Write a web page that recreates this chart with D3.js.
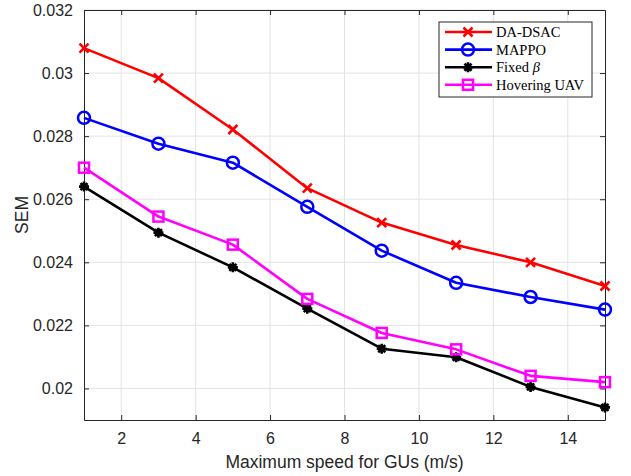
<!DOCTYPE html>
<html>
<head>
<meta charset="utf-8">
<script src="https://cdn.jsdelivr.net/npm/d3@7"></script>
<style>
  html, body { margin: 0; padding: 0; background: #fff; }
  svg { display: block; }
</style>
</head>
<body>
<svg id="chart" width="631" height="476"></svg>
<script>
const speeds = [1, 3, 5, 7, 9, 11, 13, 15];
const daDsac = [0.03079, 0.02984, 0.02821, 0.02635, 0.02526, 0.02455, 0.02400, 0.02325];
const mappo = [0.02858, 0.02776, 0.02716, 0.02576, 0.02437, 0.02335, 0.02290, 0.02250];
const fixedBeta = [0.02640, 0.02494, 0.02384, 0.02253, 0.02126, 0.02099, 0.02005, 0.01940];
const hovering = [0.02700, 0.02545, 0.02456, 0.02284, 0.02176, 0.02124, 0.02040, 0.02020];
const xTicks = [2, 4, 6, 8, 10, 12, 14];
const yTicks = [0.02, 0.022, 0.024, 0.026, 0.028, 0.03, 0.032];
const seriesNames = ["DA-DSAC", "MAPPO", "Fixed β", "Hovering UAV"];
const seriesColors = ["#ff0000", "#0000ff", "#000000", "#ff00ff"];
const seriesMarkers = ["x", "circle", "star", "square"];
const xLabel = "Maximum speed for GUs (m/s)";
const yLabel = "SEM";

const series = [daDsac, mappo, fixedBeta, hovering].map((vals, i) => ({
  name: seriesNames[i], color: seriesColors[i], marker: seriesMarkers[i],
  points: vals.map((v, j) => ({x: speeds[j], y: v}))
}));

const svg = d3.select("#chart");
const L = 84, R = 605, T = 10, B = 420;
const x = d3.scaleLinear().domain([1, 15]).range([L, R]);
const y = d3.scaleLinear().domain([0.019, 0.032]).range([B, T]);
const axisColor = "#262626";
const tickFont = "Liberation Sans, Arial, sans-serif";

// grid
const grid = svg.append("g");
grid.selectAll(".gx").data(xTicks).enter().append("line")
  .attr("x1", d => x(d)).attr("x2", d => x(d)).attr("y1", T).attr("y2", B)
  .attr("stroke", "#e3e3e3").attr("stroke-width", 1);
grid.selectAll(".gy").data(yTicks).enter().append("line")
  .attr("y1", d => y(d)).attr("y2", d => y(d)).attr("x1", L).attr("x2", R)
  .attr("stroke", "#e3e3e3").attr("stroke-width", 1);

// axes
function styleAxis(g) {
  g.select(".domain").attr("stroke", axisColor).attr("stroke-width", 1);
  g.selectAll(".tick line").attr("stroke", axisColor).attr("stroke-width", 1);
  g.selectAll(".tick text").attr("fill", axisColor).attr("font-family", tickFont).attr("font-size", "16px");
}
const fmtY = d => String(+d.toFixed(3));
svg.append("g").attr("transform", `translate(0,${B})`)
  .call(d3.axisBottom(x).tickValues(xTicks).tickSize(-5).tickPadding(13).tickSizeOuter(0))
  .call(styleAxis);
svg.append("g").attr("transform", `translate(0,${T})`)
  .call(d3.axisTop(x).tickValues(xTicks).tickSize(-5).tickFormat("").tickSizeOuter(0))
  .call(styleAxis);
svg.append("g").attr("transform", `translate(${L},0)`)
  .call(d3.axisLeft(y).tickValues(yTicks).tickSize(-5).tickPadding(11).tickFormat(fmtY).tickSizeOuter(0))
  .call(styleAxis);
svg.append("g").attr("transform", `translate(${R},0)`)
  .call(d3.axisRight(y).tickValues(yTicks).tickSize(-5).tickFormat("").tickSizeOuter(0))
  .call(styleAxis);

// axis labels
svg.append("text").attr("x", (L + R) / 2).attr("y", 468).attr("text-anchor", "middle")
  .attr("font-family", tickFont).attr("font-size", "17.5px").attr("fill", axisColor).text(xLabel);
svg.append("text").attr("transform", `translate(28,${(T + B) / 2}) rotate(-90)`).attr("text-anchor", "middle")
  .attr("font-family", tickFont).attr("font-size", "17.5px").attr("fill", axisColor).text(yLabel);

// markers
function drawMarker(g, type, color, cx, cy, s) {
  if (type === "x") {
    const r = 4.5;
    g.append("path").attr("d", `M${cx - r},${cy - r}L${cx + r},${cy + r}M${cx - r},${cy + r}L${cx + r},${cy - r}`)
      .attr("stroke", color).attr("stroke-width", 2.6).attr("fill", "none");
  } else if (type === "circle") {
    g.append("circle").attr("cx", cx).attr("cy", cy).attr("r", 6)
      .attr("stroke", color).attr("stroke-width", 2.5).attr("fill", "none");
  } else if (type === "star") {
    const r = 5;
    const d = [0, 45, 90, 135].map(a => {
      const rad = a * Math.PI / 180;
      const dx = r * Math.cos(rad), dy = r * Math.sin(rad);
      return `M${cx - dx},${cy - dy}L${cx + dx},${cy + dy}`;
    }).join("");
    g.append("path").attr("d", d).attr("stroke", color).attr("stroke-width", 2.6).attr("fill", "none");
    g.append("circle").attr("cx", cx).attr("cy", cy).attr("r", 3.5).attr("fill", color);
  } else if (type === "square") {
    const h = 5;
    g.append("rect").attr("x", cx - h).attr("y", cy - h).attr("width", 2 * h).attr("height", 2 * h)
      .attr("stroke", color).attr("stroke-width", 2.5).attr("fill", "none");
  }
}

const line = d3.line().x(d => x(d.x)).y(d => y(d.y));
const plot = svg.append("g");
series.forEach(s => {
  plot.append("path").datum(s.points).attr("d", line)
    .attr("fill", "none").attr("stroke", s.color).attr("stroke-width", 2.6).attr("stroke-linejoin", "round");
  s.points.forEach(p => drawMarker(plot, s.marker, s.color, x(p.x), y(p.y)));
});

// legend
const lg = svg.append("g");
const lx = 439, ly = 22, lw = 153, lh = 75;
lg.append("rect").attr("x", lx).attr("y", ly).attr("width", lw).attr("height", lh)
  .attr("fill", "#fff").attr("stroke", axisColor).attr("stroke-width", 1);
series.forEach((s, i) => {
  const yy = 32 + i * 17.6;
  lg.append("line").attr("x1", 445).attr("x2", 492).attr("y1", yy).attr("y2", yy)
    .attr("stroke", s.color).attr("stroke-width", 2.6);
  drawMarker(lg, s.marker, s.color, 468, yy);
  const t = lg.append("text").attr("x", 496).attr("y", yy + 5)
    .attr("font-family", "Liberation Serif, Times New Roman, serif").attr("font-size", "14.5px").attr("fill", "#000");
  if (s.name === "Fixed β") {
    t.append("tspan").text("Fixed ");
    t.append("tspan").attr("font-style", "italic").text("β");
  } else {
    t.text(s.name);
  }
});
</script>
</body>
</html>
